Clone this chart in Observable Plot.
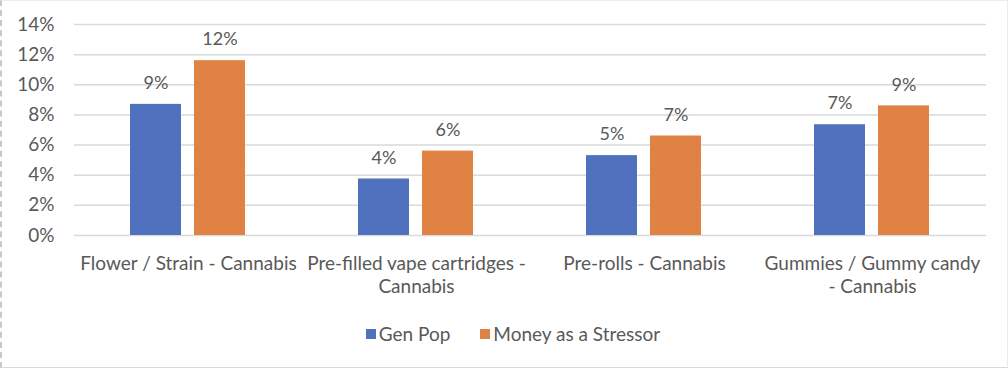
<!DOCTYPE html>
<html>
<head>
<meta charset="utf-8">
<script src="https://cdn.jsdelivr.net/npm/d3@7"></script>
<script src="https://cdn.jsdelivr.net/npm/@observablehq/plot@0.6"></script>
<style>
  html, body { margin: 0; padding: 0; background: #fff; }
  #frame { position: absolute; left: 0; top: 0; width: 1008px; height: 368px; box-sizing: border-box;
           border-top: 1px solid #ececec; border-bottom: 1px solid #d9d9d9; border-right: 1px solid #ececec;
           border-left: 2px dashed #c8c8c8; }
  #chart { position: absolute; left: 0; top: 0; }
  #legend { position: absolute; left: 0; top: 322px; width: 1008px; display: flex; justify-content: center;
            font-family: Lato, "Open Sans", sans-serif; font-size: 19px; color: #595959; padding-left: 18px; box-sizing: border-box; }
  .item { display: flex; align-items: center; margin: 0 15px; }
  .sw { width: 10px; height: 10px; margin-right: 3px; }
</style>
</head>
<body>
<div id="frame"></div>
<div id="chart"></div>
<div id="legend"></div>
<script>
const categories = ["Flower / Strain - Cannabis", "Pre-filled vape cartridges - Cannabis", "Pre-rolls - Cannabis", "Gummies / Gummy candy - Cannabis"];
const categoryLabels = ["Flower / Strain - Cannabis", "Pre-filled vape cartridges -\nCannabis", "Pre-rolls - Cannabis", "Gummies / Gummy candy\n- Cannabis"];
const seriesNames = ["Gen Pop", "Money as a Stressor"];
const genPop = [0.087, 0.0375, 0.053, 0.0735];
const moneyStressor = [0.116, 0.056, 0.066, 0.086];
const yTicks = [0, 0.02, 0.04, 0.06, 0.08, 0.10, 0.12, 0.14];
const colors = ["#5071BE", "#DF8244"];

const data = categories.flatMap((c, i) => [
  {cat: c, series: seriesNames[0], value: genPop[i]},
  {cat: c, series: seriesNames[1], value: moneyStressor[i]}
]);
const pct = d3.format(".0%");

const chart = Plot.plot({
  width: 1008, height: 305,
  marginTop: 24, marginBottom: 70, marginLeft: 73, marginRight: 21,
  style: {fontFamily: "Lato, 'Open Sans', sans-serif", fontSize: "19px", color: "#595959", background: "transparent"},
  fx: {domain: categories, padding: 0, label: null, axis: null},
  x: {domain: seriesNames, paddingInner: 0.2, paddingOuter: 0.866, axis: null},
  y: {domain: [0, 0.14], label: null, axis: null},
  color: {domain: seriesNames, range: colors},
  marks: [
    Plot.gridY(yTicks, {stroke: "#d9d9d9", strokeOpacity: 1, strokeWidth: 1.5}),
    Plot.axisY(yTicks, {tickFormat: pct, tickSize: 0, tickPadding: 20, fontSize: 19, fill: "#595959", label: null}),
    Plot.axisFx({anchor: "bottom", tickSize: 0, tickPadding: 17, label: null, fontSize: 19, fill: "#595959",
                 lineHeight: 1.26, tickFormat: d => categoryLabels[categories.indexOf(d)]}),
    Plot.barY(data, {fx: "cat", x: "series", y: "value", fill: "series"}),
    Plot.text(data, {fx: "cat", x: "series", y: "value", text: d => pct(d.value), dy: -21, fill: "#595959", fontSize: 18})
  ]
});
document.getElementById("chart").appendChild(chart);

const legend = document.getElementById("legend");
seriesNames.forEach((s, i) => {
  const it = document.createElement("div");
  it.className = "item";
  const sw = document.createElement("div");
  sw.className = "sw";
  sw.style.background = colors[i];
  const t = document.createElement("span");
  t.textContent = s;
  it.appendChild(sw); it.appendChild(t);
  legend.appendChild(it);
});
</script>
</body>
</html>
